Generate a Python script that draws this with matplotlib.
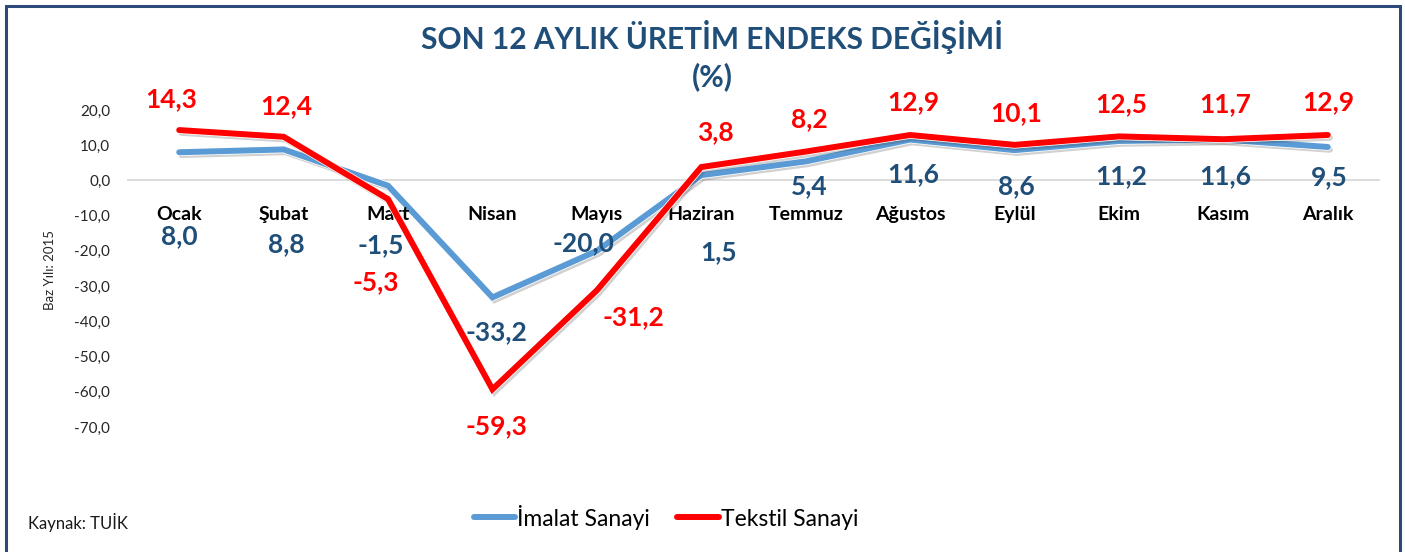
import matplotlib
matplotlib.use("Agg")
import matplotlib.pyplot as plt
import matplotlib.patheffects as pe
from matplotlib.lines import Line2D
from matplotlib.patches import Rectangle

plt.rcParams['font.family'] = ['Lato', 'DejaVu Sans']

# data
months = ["Ocak", "Şubat", "Mart", "Nisan", "Mayıs", "Haziran",
          "Temmuz", "Ağustos", "Eylül", "Ekim", "Kasım", "Aralık"]
imalat = [8.0, 8.8, -1.5, -33.2, -20.0, 1.5, 5.4, 11.6, 8.6, 11.2, 11.6, 9.5]
tekstil = [14.3, 12.4, -5.3, -59.3, -31.2, 3.8, 8.2, 12.9, 10.1, 12.5, 11.7, 12.9]
y_ticks = [20, 10, 0, -10, -20, -30, -40, -50, -60, -70]

# label offsets in pixels (dx, dy), hand placed like the original
red_off = [(-8, 31), (3, 31), (-12, -83), (4, -37), (37, -27), (14, 35),
           (4, 32), (3, 33), (2, 32), (2, 32), (2, 35), (1, 33)]
blue_off = [(0, -84), (3, -95), (-7, -59), (4, -35), (-13, 8), (17, -77),
            (4, -25), (3, -35), (2, -36), (2, -35), (2, -37), (1, -30)]

BLUE = "#5B9BD5"
RED = "#FF0000"
NAVY = "#1F4E79"

W, H = 1405, 552
fig = plt.figure(figsize=(W / 100, H / 100), dpi=100)
fig.patch.set_facecolor("white")

# outer frame (bottom edge is cut off in the original)
fig.add_artist(Rectangle((5.5 / W, -0.05), (1400 - 5.5) / W, 1 - 5.5 / H + 0.05,
                         transform=fig.transFigure, fill=False,
                         edgecolor="#2E4A7A", linewidth=2.2))

ax = fig.add_axes([127 / W, (H - 427) / H, (1380 - 127) / W, 317 / H])
ax.set_xlim(-0.5, len(months) - 0.5)
ax.set_ylim(-70, 20)
for s in ax.spines.values():
    s.set_visible(False)
ax.set_xticks([])
ax.set_yticks(y_ticks)
ax.set_yticklabels([f"{v:.1f}".replace(".", ",") for v in y_ticks])
ax.tick_params(axis="y", length=0, pad=12, labelsize=11, labelcolor="#262626")
ax.axhline(0, color="#D9D9D9", linewidth=1.3, zorder=1)

x = list(range(len(months)))
fx = [pe.SimpleLineShadow(offset=(1.5, -2), shadow_color="#303030", alpha=0.22),
      pe.Stroke(linewidth=5.4, foreground="white"), pe.Normal()]
ax.plot(x, imalat, color=BLUE, linewidth=4.3, solid_joinstyle="miter",
        solid_capstyle="round", path_effects=fx, zorder=3)
ax.plot(x, tekstil, color=RED, linewidth=4.3, solid_joinstyle="miter",
        solid_capstyle="round", path_effects=fx, zorder=4)

# month names sit below the zero line
for i, m in enumerate(months):
    ax.annotate(m, xy=(i, 0), xytext=(0, -34), textcoords="offset pixels",
                ha="center", va="center", fontsize=14, fontweight="bold",
                color="black", annotation_clip=False)

for i, v in enumerate(tekstil):
    dx, dy = red_off[i]
    ax.annotate(f"{v:.1f}".replace(".", ","), xy=(i, v), xytext=(dx, dy),
                textcoords="offset pixels", ha="center", va="center",
                fontsize=19, fontweight="bold", color=RED, zorder=6,
                annotation_clip=False)
for i, v in enumerate(imalat):
    dx, dy = blue_off[i]
    ax.annotate(f"{v:.1f}".replace(".", ","), xy=(i, v), xytext=(dx, dy),
                textcoords="offset pixels", ha="center", va="center",
                fontsize=19, fontweight="bold", color=NAVY, zorder=6,
                annotation_clip=False)

fig.text(712 / W, 1 - 37 / H, "SON 12 AYLIK ÜRETİM ENDEKS DEĞİŞİMİ",
         ha="center", va="center", fontsize=21.5, fontweight="bold", color=NAVY)
fig.text(712 / W, 1 - 77 / H, "(%)", ha="center", va="center",
         fontsize=21.5, fontweight="bold", color=NAVY)

fig.text(50 / W, 1 - 270 / H, "Baz Yılı: 2015", rotation=90, ha="center",
         va="center", fontsize=9.5, color="#262626")
fig.text(28 / W, 1 - 522 / H, "Kaynak: TUİK", ha="left", va="center",
         fontsize=12, color="#1a1a1a")

handles = [Line2D([], [], color=BLUE, linewidth=4.3, solid_capstyle="round"),
           Line2D([], [], color=RED, linewidth=4.3, solid_capstyle="round")]
fig.legend(handles, ["İmalat Sanayi", "Tekstil Sanayi"], loc="center",
           bbox_to_anchor=(666 / W, 1 - 517 / H), ncol=2, frameon=False,
           fontsize=16.5, handlelength=1.8, handletextpad=0.1,
           columnspacing=1.2)

fig.savefig("out.png", dpi=100, facecolor="white")
